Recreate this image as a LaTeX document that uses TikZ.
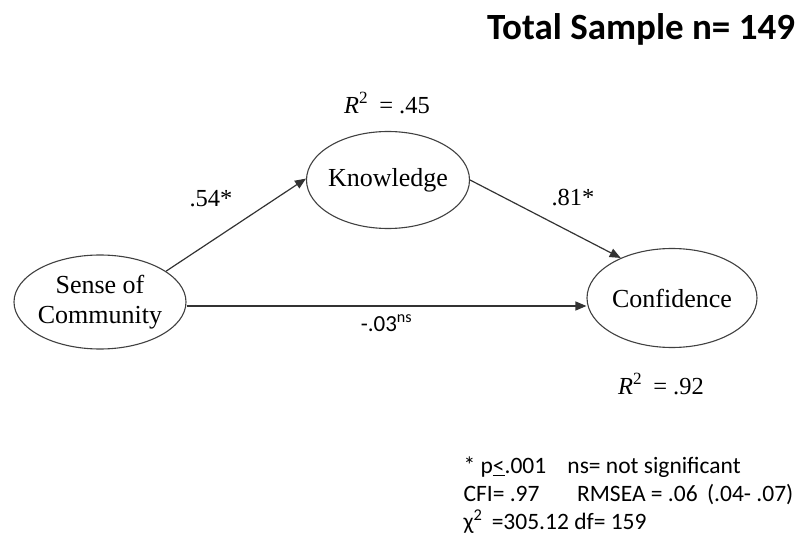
\documentclass[tikz,border=0pt]{standalone}
\usepackage{fontspec}
\setmainfont{Liberation Serif}
\newfontfamily\calib{Carlito}
\usetikzlibrary{arrows.meta,shapes.geometric}
\begin{document}
\begin{tikzpicture}[x=1pt,y=-1pt,
  latent/.style={draw=black!75,line width=1.1pt,ellipse,inner sep=0pt},
  lbl/.style={align=center,font=\fontsize{26}{30}\selectfont},
  path/.style={line width=1.2pt,draw=black!80,-{Triangle[length=11pt,width=9pt]}},
  coef/.style={font=\fontsize{24.5}{26}\selectfont},
  note/.style={font=\calib\fontsize{23.5}{26}\selectfont,anchor=west}]
\useasboundingbox (0,0) rectangle (800,537);
\node[font=\calib\bfseries\fontsize{37}{40}\selectfont] (title) at (641,29) {Total Sample n= 149};
% latent variables (fixed-size ellipses, names set on top)
\node[latent,minimum width=172pt,minimum height=94pt] (soc) at (100,302) {};
\node[latent,minimum width=163pt,minimum height=97pt] (know) at (388,180) {};
\node[latent,minimum width=170pt,minimum height=99pt] (conf) at (672,298) {};
\node[lbl] (socT) at (soc.center) {Sense of\\Community};
\node[lbl] (knowT) at (know.center) {Knowledge};
\node[lbl] (confT) at (conf.center) {Confidence};
% explained variance
\node[coef] (r2k) at (387,103) {\textit{R}\textsuperscript{2}\hspace{0.45em}= .45};
\node[coef] (r2c) at (661,384) {\textit{R}\textsuperscript{2}\hspace{0.45em}= .92};
% structural paths
\draw[path] (soc.25) -- (know.179);
\draw[path] (know.east) -- (conf.142);
\draw[path] (soc.east |- 0,306) -- (conf.west |- 0,306) node[font=\calib\fontsize{23}{26}\selectfont,midway,below=5pt] (c3) {-.03\textsuperscript{ns}};
\node[coef] (c1) at (211,199) {.54*};
\node[coef] (c2) at (573,198) {.81*};
% fit statistics
\node[note] (n1) at (460,467) {* p\underline{<}.001\hspace{0.9em}ns= not significant};
\node[note] (n2) at (460,495) {CFI= .97\hspace{1.6em}RMSEA = .06\hspace{0.4em}(.04- .07)};
\node[note] (n3) at (460,522) {χ\textsuperscript{2}\hspace{0.4em}=305.12 df= 159};
\end{tikzpicture}
\end{document}
